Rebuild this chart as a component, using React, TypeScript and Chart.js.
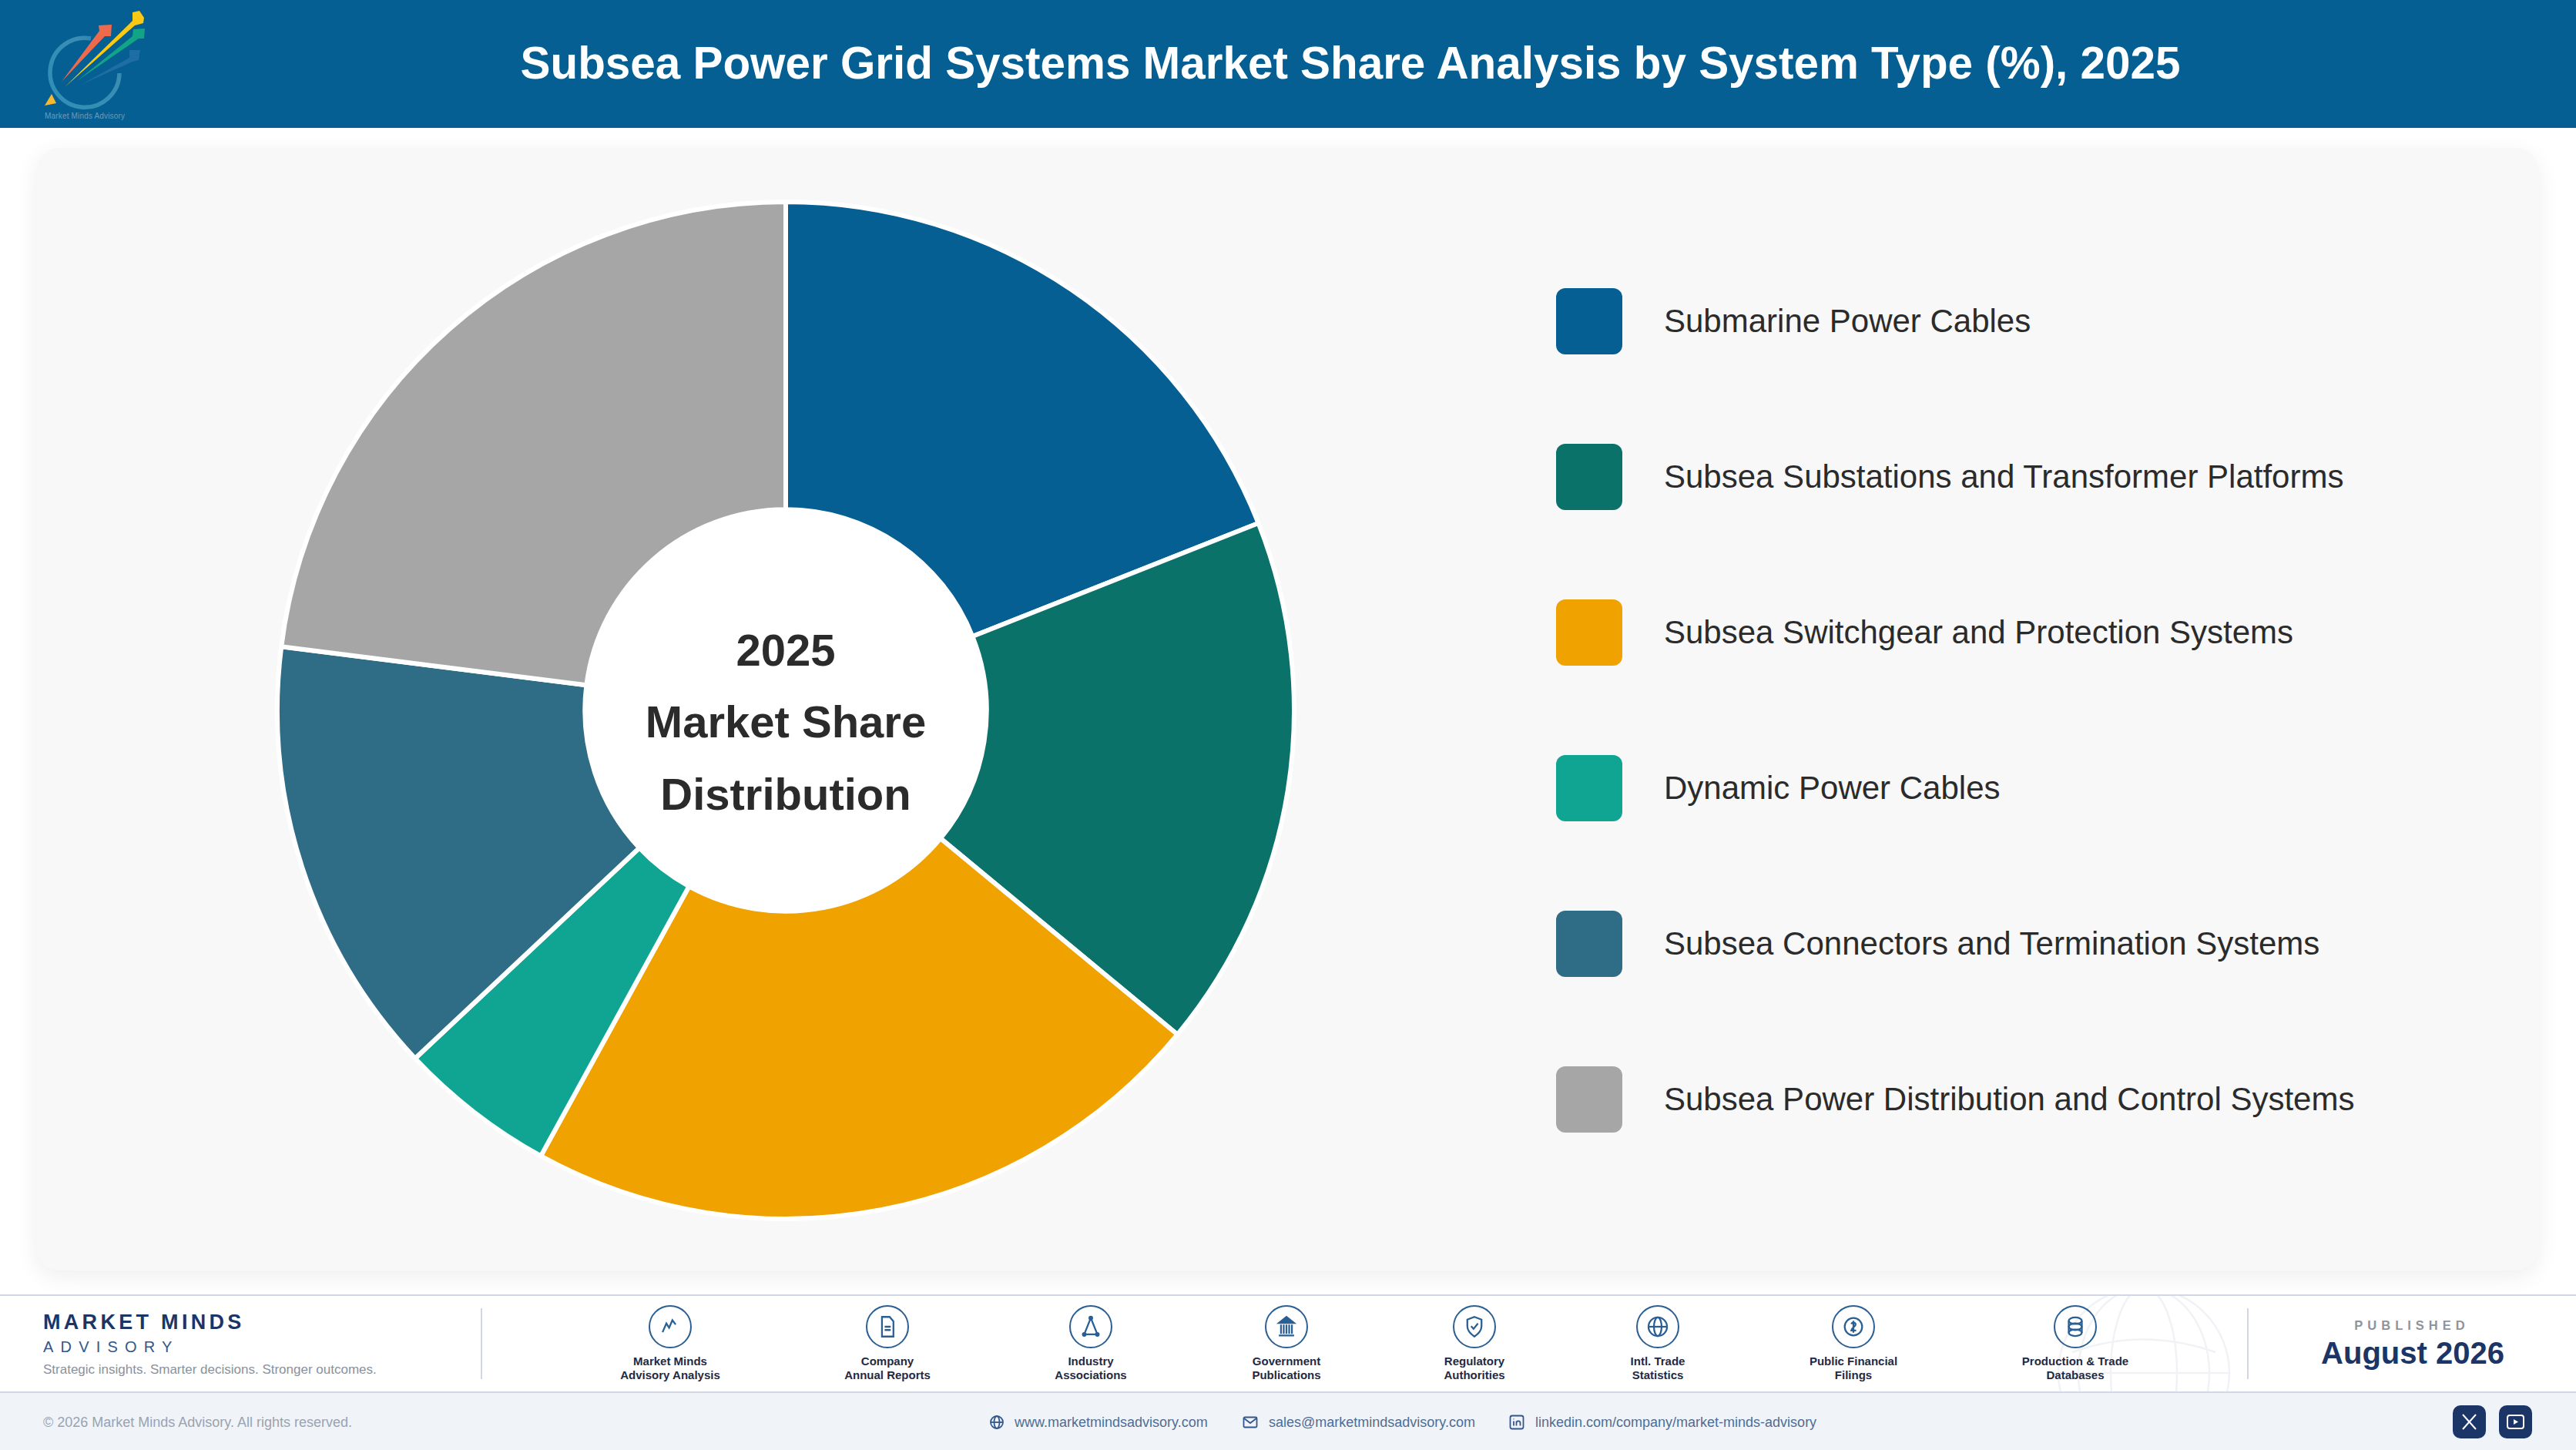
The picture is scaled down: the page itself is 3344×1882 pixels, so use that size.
import React, { useEffect, useRef } from "react";
import { Chart, registerables } from "chart.js";

Chart.register(...registerables);

const categories = [
  "Submarine Power Cables",
  "Subsea Substations and Transformer Platforms",
  "Subsea Switchgear and Protection Systems",
  "Dynamic Power Cables",
  "Subsea Connectors and Termination Systems",
  "Subsea Power Distribution and Control Systems",
];
const shares = [19, 17, 22, 5, 14, 23];
const sliceColors = ["#055F92", "#0B7269", "#F0A300", "#10A592", "#2F6C85", "#A6A6A6"];
const centerLines = ["2025", "Market Share", "Distribution"];
const titleText = "Subsea Power Grid Systems Market Share Analysis by System Type (%), 2025";

const sourceLabels = [
  ["Market Minds", "Advisory Analysis"],
  ["Company", "Annual Reports"],
  ["Industry", "Associations"],
  ["Government", "Publications"],
  ["Regulatory", "Authorities"],
  ["Intl. Trade", "Statistics"],
  ["Public Financial", "Filings"],
  ["Production & Trade", "Databases"],
];
const sourceCenters = [870, 1152, 1416, 1670, 1914, 2152, 2406, 2694];

const FONT = '"Liberation Sans", Arial, sans-serif';
const NAVY = "#1A3566";
const ICON = "#2A5F94";

const centerPlugin = {
  id: "centerText",
  beforeDatasetsDraw(chart: any) {
    const arc = chart.getDatasetMeta(0).data[0];
    const { ctx } = chart;
    ctx.save();
    ctx.fillStyle = "#FFFFFF";
    ctx.beginPath();
    ctx.arc(arc.x, arc.y, arc.innerRadius + 2, 0, Math.PI * 2);
    ctx.fill();
    ctx.restore();
  },
  afterDatasetsDraw(chart: any) {
    const arc = chart.getDatasetMeta(0).data[0];
    const { ctx } = chart;
    ctx.save();
    ctx.fillStyle = "#2B2B2B";
    ctx.font = `bold 58px ${FONT}`;
    ctx.textAlign = "center";
    ctx.textBaseline = "middle";
    centerLines.forEach((line, i) => {
      ctx.fillText(line, arc.x, arc.y + (i - 1) * 93.5 + 19);
    });
    ctx.restore();
  },
};

function Doughnut() {
  const ref = useRef<HTMLCanvasElement>(null);
  useEffect(() => {
    const chart = new Chart(ref.current as HTMLCanvasElement, {
      type: "doughnut",
      data: {
        labels: categories,
        datasets: [
          {
            data: shares,
            backgroundColor: sliceColors,
            borderColor: "#FFFFFF",
            borderWidth: 6,
            hoverOffset: 0,
          },
        ],
      },
      options: {
        animation: false,
        responsive: false,
        cutout: "39.5%",
        radius: "100%",
        layout: { padding: 0 },
        plugins: { legend: { display: false }, tooltip: { enabled: false } },
      },
      plugins: [centerPlugin],
    } as any);
    return () => chart.destroy();
  }, []);
  return (
    <canvas
      ref={ref}
      width={1326}
      height={1326}
      style={{ position: "absolute", left: 1020 - 663, top: 922 - 663, width: 1326, height: 1326 }}
    />
  );
}

function T({ x, y, w, children, style }: any) {
  const base: any = {
    position: "absolute",
    top: y - 40,
    height: 80,
    lineHeight: "80px",
    whiteSpace: "nowrap",
    fontFamily: FONT,
  };
  if (w) {
    base.left = x - w / 2;
    base.width = w;
    base.textAlign = "center";
  } else {
    base.left = x;
  }
  return <div style={{ ...base, ...style }}>{children}</div>;
}

function Logo() {
  return (
    <svg width={200} height={166} viewBox="0 0 200 166" style={{ position: "absolute", left: 0, top: 0 }}>
      <defs>
        <linearGradient id="ring" x1="0" y1="1" x2="1" y2="0">
          <stop offset="0" stopColor="#2F8FB5" />
          <stop offset="0.7" stopColor="#3A8DB3" />
          <stop offset="1" stopColor="#1F7AA8" />
        </linearGradient>
      </defs>
      <path d="M118 50 A45 45 0 1 0 155 95" fill="none" stroke="url(#ring)" strokeWidth={5.5} />
      <polygon points="105,110 168,75 168,65 182,65 180,78 172,80" fill="#1F6EA3" />
      <polygon points="80,106 129,40 128,33 145,32 144,47 136,47" fill="#EE6A4D" />
      <polygon points="100,105 172,47 173,38 188,37 187,50 180,50" fill="#12A585" />
      <polygon points="84,113 172,27 172,16 181,14 187,23 186,30 175,33" fill="#FBC813" />
      <polygon points="58,137 67,122 73,134" fill="#F8B82D" />
      <text x={58} y={154} fontFamily={FONT} fontSize={10} fill="#6A9CBC" textLength={104}>
        Market Minds Advisory
      </text>
    </svg>
  );
}

const iconPaths: React.ReactNode[] = [
  <polyline key="a" points="5,17 8.500,9 11,13 14,6 17,10" fill="none" />,
  <g key="b" fill="none">
    <path d="M7 3h7l3.500 4v14H7z" />
    <path d="M9.500 12h5.500M9.500 15h5.500" />
  </g>,
  <g key="c" fill="none">
    <path d="M12 4L6 19h12z" />
    <circle cx="12" cy="4" r="1.300" fill={ICON} />
    <circle cx="6" cy="19" r="1.300" fill={ICON} />
    <circle cx="18" cy="19" r="1.300" fill={ICON} />
  </g>,
  <g key="d" fill="none">
    <path d="M5 8.500L12 3l7 5.500z" fill={ICON} />
    <path d="M7 10v8.500M9.500 10v8.500M12 10v8.500M14.500 10v8.500M17 10v8.500M5 20h14" />
  </g>,
  <g key="e" fill="none">
    <path d="M12 3l6.500 2.500v6c0 4.500-2.800 7-6.500 9.500-3.700-2.500-6.500-5-6.500-9.500v-6z" />
    <path d="M9 11.500l2.200 2.500 4-5" />
  </g>,
  <g key="f" fill="none">
    <circle cx="12" cy="12" r="8.500" />
    <ellipse cx="12" cy="12" rx="3.500" ry="8.500" />
    <path d="M3.500 12h17" />
  </g>,
  <g key="g" fill="none">
    <circle cx="12" cy="12" r="8" />
    <path d="M10 9.500c1-2 4-1.500 4 .5s-4 3-4 5.500h4.500M12 6.500v11" />
  </g>,
  <g key="h" fill="none">
    <ellipse cx="12" cy="6.500" rx="6" ry="3" />
    <ellipse cx="12" cy="12" rx="6" ry="3" />
    <ellipse cx="12" cy="17.500" rx="6" ry="3" />
    <path d="M6 6.500v11M18 6.500v11" />
  </g>,
];

function Globe() {
  return (
    <svg
      width={260}
      height={124}
      viewBox="0 0 260 124"
      style={{ position: "absolute", left: 2660, top: 1682 }}
      fill="none"
      stroke="#F1F2F6"
      strokeWidth={2.5}
    >
      <circle cx={123} cy={100} r={111} />
      <ellipse cx={123} cy={100} rx={85} ry={111} />
      <ellipse cx={123} cy={100} rx={43} ry={111} />
      <path d="M12 100h222M30 73 Q123 40 216 73" />
    </svg>
  );
}

function SmallIcon({ cx, children }: any) {
  return (
    <svg
      width={24}
      height={24}
      viewBox="0 0 24 24"
      style={{ position: "absolute", left: cx - 12, top: 1834 }}
      fill="none"
      stroke="#33578A"
      strokeWidth={1.8}
    >
      {children}
    </svg>
  );
}

export default function App() {
  const linkStyle = { fontSize: 18, color: "#4F6D94" };
  return (
    <div
      style={{
        position: "absolute",
        left: 0,
        top: 0,
        width: 3344,
        height: 1882,
        background: "#FFFFFF",
        overflow: "hidden",
        fontFamily: FONT,
      }}
    >
      {/* header */}
      <div style={{ position: "absolute", left: 0, top: 0, width: 3344, height: 166, background: "#055F92" }} />
      <Logo />
      <T x={1753} y={82} w={2600} style={{ fontSize: 58.4, fontWeight: 700, color: "#FFFFFF" }}>
        {titleText}
      </T>

      {/* card */}
      <div
        style={{
          position: "absolute",
          left: 47,
          top: 192,
          width: 3248,
          height: 1457,
          background: "#F8F8F8",
          borderRadius: 30,
          boxShadow: "0 8px 30px rgba(0,0,0,0.07)",
        }}
      />
      <Doughnut />

      {/* legend */}
      {categories.map((name, i) => (
        <React.Fragment key={name}>
          <div
            style={{
              position: "absolute",
              left: 2020,
              top: 374 + i * 202,
              width: 86,
              height: 86,
              borderRadius: 12,
              background: sliceColors[i],
            }}
          />
          <T x={2160} y={417 + i * 202} style={{ fontSize: 42, color: "#2B2B2B" }}>
            {name}
          </T>
        </React.Fragment>
      ))}

      {/* footer */}
      <div style={{ position: "absolute", left: 0, top: 1680, width: 3344, height: 2, background: "#D3D6E4" }} />
      <Globe />
      <div style={{ position: "absolute", left: 0, top: 1806, width: 3344, height: 76, background: "#F0F4F9" }} />
      <div style={{ position: "absolute", left: 0, top: 1806, width: 3344, height: 2, background: "#D3D6E4" }} />

      <T x={56} y={1716} style={{ fontSize: 27, fontWeight: 700, color: NAVY, letterSpacing: 4.3 }}>
        MARKET MINDS
      </T>
      <T x={56} y={1748} style={{ fontSize: 20, color: "#33578A", letterSpacing: 9.2 }}>
        ADVISORY
      </T>
      <T x={56} y={1778} style={{ fontSize: 17, color: "#8A919C" }}>
        Strategic insights. Smarter decisions. Stronger outcomes.
      </T>
      <div style={{ position: "absolute", left: 624, top: 1698, width: 2, height: 92, background: "#D3D7DE" }} />
      <div style={{ position: "absolute", left: 2917, top: 1698, width: 2, height: 92, background: "#D3D7DE" }} />

      {sourceLabels.map((lines, i) => (
        <React.Fragment key={lines[0]}>
          <div
            style={{
              position: "absolute",
              left: sourceCenters[i] - 28,
              top: 1694,
              width: 56,
              height: 56,
              boxSizing: "border-box",
              border: `2.5px solid ${ICON}`,
              borderRadius: "50%",
            }}
          />
          <svg
            width={34}
            height={34}
            viewBox="0 0 24 24"
            stroke={ICON}
            strokeWidth={1.6}
            style={{ position: "absolute", left: sourceCenters[i] - 17, top: 1705 }}
          >
            {iconPaths[i]}
          </svg>
          {lines.map((line, j) => (
            <T key={line} x={sourceCenters[i]} y={1767 + j * 18} w={240} style={{ fontSize: 15, fontWeight: 700, color: "#1F2A44" }}>
              {line}
            </T>
          ))}
        </React.Fragment>
      ))}

      <T x={3131} y={1720} w={300} style={{ fontSize: 16.5, fontWeight: 700, color: "#8F949C", letterSpacing: 6 }}>
        PUBLISHED
      </T>
      <T x={3132} y={1756} w={320} style={{ fontSize: 40, fontWeight: 700, color: NAVY }}>
        August 2026
      </T>

      <T x={56} y={1846} style={{ fontSize: 18, color: "#9AA3B0" }}>
        © 2026 Market Minds Advisory. All rights reserved.
      </T>
      <SmallIcon cx={1294}>
        <circle cx="12" cy="12" r="8" />
        <ellipse cx="12" cy="12" rx="3.500" ry="8" />
        <path d="M4 12h16" />
      </SmallIcon>
      <T x={1317} y={1846} style={linkStyle}>
        www.marketmindsadvisory.com
      </T>
      <SmallIcon cx={1623}>
        <rect x="3.500" y="5.500" width="17" height="13" rx="1.500" />
        <path d="M4 7l8 6 8-6" />
      </SmallIcon>
      <T x={1647} y={1846} style={linkStyle}>
        sales@marketmindsadvisory.com
      </T>
      <SmallIcon cx={1969}>
        <rect x="3.500" y="3.500" width="17" height="17" rx="2.500" />
        <path d="M8 10.500v6M8 7.500v.8M11.500 16.500v-6M11.500 13c0-3.500 5-3.500 5 0v3.500" />
      </SmallIcon>
      <T x={1993} y={1846} style={linkStyle}>
        linkedin.com/company/market-minds-advisory
      </T>

      <div style={{ position: "absolute", left: 3184, top: 1824, width: 43, height: 43, borderRadius: 10, background: NAVY }} />
      <svg width={43} height={43} viewBox="0 0 43 43" style={{ position: "absolute", left: 3184, top: 1824 }} stroke="#FFFFFF" strokeWidth={2} fill="none">
        <path d="M13 12l17 19M30 12L13 31" />
      </svg>
      <div style={{ position: "absolute", left: 3244, top: 1824, width: 43, height: 43, borderRadius: 10, background: NAVY }} />
      <svg width={43} height={43} viewBox="0 0 43 43" style={{ position: "absolute", left: 3244, top: 1824 }} stroke="#FFFFFF" strokeWidth={2} fill="none">
        <rect x="11" y="13" width="21" height="17" rx="3" />
        <path d="M19 18l6 3.500-6 3.500z" fill="#FFFFFF" stroke="none" />
      </svg>
    </div>
  );
}
